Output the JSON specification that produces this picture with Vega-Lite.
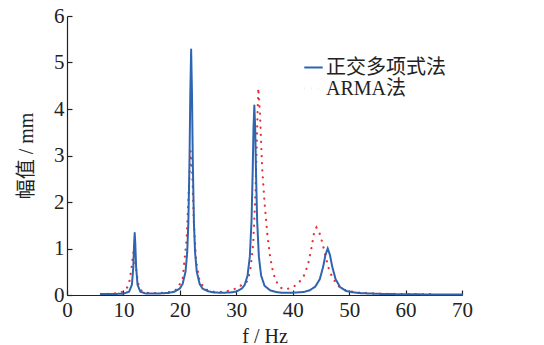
{
  "$schema": "https://vega.github.io/schema/vega-lite/v6.json",
  "width": 395,
  "height": 279,
  "autosize": "none",
  "padding": {"left": 67, "top": 16, "right": 82, "bottom": 50},
  "background": "white",
  "config": {
    "view": {"stroke": null},
    "font": "Liberation Serif"
  },
  "data": {
    "values": [
      {"f": 6, "y": 0.02, "s": "正交多项式法"},
      {"f": 8, "y": 0.02, "s": "正交多项式法"},
      {"f": 10, "y": 0.03, "s": "正交多项式法"},
      {"f": 11, "y": 0.07, "s": "正交多项式法"},
      {"f": 11.5, "y": 0.22, "s": "正交多项式法"},
      {"f": 11.75, "y": 0.6, "s": "正交多项式法"},
      {"f": 11.9, "y": 1.12, "s": "正交多项式法"},
      {"f": 12.0, "y": 1.34, "s": "正交多项式法"},
      {"f": 12.1, "y": 1.12, "s": "正交多项式法"},
      {"f": 12.25, "y": 0.6, "s": "正交多项式法"},
      {"f": 12.5, "y": 0.22, "s": "正交多项式法"},
      {"f": 13, "y": 0.07, "s": "正交多项式法"},
      {"f": 14, "y": 0.03, "s": "正交多项式法"},
      {"f": 16, "y": 0.03, "s": "正交多项式法"},
      {"f": 18, "y": 0.045, "s": "正交多项式法"},
      {"f": 19, "y": 0.07, "s": "正交多项式法"},
      {"f": 20, "y": 0.14, "s": "正交多项式法"},
      {"f": 20.5, "y": 0.24, "s": "正交多项式法"},
      {"f": 21, "y": 0.5, "s": "正交多项式法"},
      {"f": 21.3, "y": 0.91, "s": "正交多项式法"},
      {"f": 21.5, "y": 1.53, "s": "正交多项式法"},
      {"f": 21.7, "y": 2.81, "s": "正交多项式法"},
      {"f": 21.85, "y": 4.33, "s": "正交多项式法"},
      {"f": 22.0, "y": 5.28, "s": "正交多项式法"},
      {"f": 22.15, "y": 4.33, "s": "正交多项式法"},
      {"f": 22.3, "y": 2.81, "s": "正交多项式法"},
      {"f": 22.5, "y": 1.53, "s": "正交多项式法"},
      {"f": 22.7, "y": 0.91, "s": "正交多项式法"},
      {"f": 23, "y": 0.5, "s": "正交多项式法"},
      {"f": 23.5, "y": 0.24, "s": "正交多项式法"},
      {"f": 24, "y": 0.14, "s": "正交多项式法"},
      {"f": 25, "y": 0.08, "s": "正交多项式法"},
      {"f": 26, "y": 0.056, "s": "正交多项式法"},
      {"f": 27, "y": 0.05, "s": "正交多项式法"},
      {"f": 28, "y": 0.05, "s": "正交多项式法"},
      {"f": 29, "y": 0.055, "s": "正交多项式法"},
      {"f": 30, "y": 0.075, "s": "正交多项式法"},
      {"f": 31, "y": 0.14, "s": "正交多项式法"},
      {"f": 31.5, "y": 0.22, "s": "正交多项式法"},
      {"f": 32, "y": 0.42, "s": "正交多项式法"},
      {"f": 32.4, "y": 0.83, "s": "正交多项式法"},
      {"f": 32.7, "y": 1.59, "s": "正交多项式法"},
      {"f": 32.9, "y": 2.61, "s": "正交多项式法"},
      {"f": 33.05, "y": 3.58, "s": "正交多项式法"},
      {"f": 33.2, "y": 4.08, "s": "正交多项式法"},
      {"f": 33.35, "y": 3.58, "s": "正交多项式法"},
      {"f": 33.5, "y": 2.61, "s": "正交多项式法"},
      {"f": 33.7, "y": 1.59, "s": "正交多项式法"},
      {"f": 34.0, "y": 0.83, "s": "正交多项式法"},
      {"f": 34.4, "y": 0.42, "s": "正交多项式法"},
      {"f": 35, "y": 0.2, "s": "正交多项式法"},
      {"f": 36, "y": 0.1, "s": "正交多项式法"},
      {"f": 37, "y": 0.065, "s": "正交多项式法"},
      {"f": 38, "y": 0.05, "s": "正交多项式法"},
      {"f": 40, "y": 0.05, "s": "正交多项式法"},
      {"f": 42, "y": 0.065, "s": "正交多项式法"},
      {"f": 43, "y": 0.1, "s": "正交多项式法"},
      {"f": 44, "y": 0.18, "s": "正交多项式法"},
      {"f": 44.8, "y": 0.34, "s": "正交多项式法"},
      {"f": 45.4, "y": 0.61, "s": "正交多项式法"},
      {"f": 45.8, "y": 0.86, "s": "正交多项式法"},
      {"f": 46.2, "y": 1.0, "s": "正交多项式法"},
      {"f": 46.6, "y": 0.86, "s": "正交多项式法"},
      {"f": 47.0, "y": 0.61, "s": "正交多项式法"},
      {"f": 47.6, "y": 0.34, "s": "正交多项式法"},
      {"f": 48.4, "y": 0.17, "s": "正交多项式法"},
      {"f": 49.4, "y": 0.09, "s": "正交多项式法"},
      {"f": 50.5, "y": 0.06, "s": "正交多项式法"},
      {"f": 52, "y": 0.04, "s": "正交多项式法"},
      {"f": 55, "y": 0.025, "s": "正交多项式法"},
      {"f": 60, "y": 0.015, "s": "正交多项式法"},
      {"f": 65, "y": 0.012, "s": "正交多项式法"},
      {"f": 70, "y": 0.01, "s": "正交多项式法"},
      {"f": 6, "y": 0.02, "s": "ARMA法"},
      {"f": 8, "y": 0.03, "s": "ARMA法"},
      {"f": 9.5, "y": 0.05, "s": "ARMA法"},
      {"f": 10.5, "y": 0.12, "s": "ARMA法"},
      {"f": 11, "y": 0.25, "s": "ARMA法"},
      {"f": 11.4, "y": 0.55, "s": "ARMA法"},
      {"f": 11.8, "y": 0.95, "s": "ARMA法"},
      {"f": 12.2, "y": 0.6, "s": "ARMA法"},
      {"f": 12.6, "y": 0.25, "s": "ARMA法"},
      {"f": 13.2, "y": 0.09, "s": "ARMA法"},
      {"f": 14, "y": 0.05, "s": "ARMA法"},
      {"f": 16, "y": 0.04, "s": "ARMA法"},
      {"f": 18, "y": 0.06, "s": "ARMA法"},
      {"f": 19.5, "y": 0.12, "s": "ARMA法"},
      {"f": 20.5, "y": 0.35, "s": "ARMA法"},
      {"f": 21.2, "y": 1.2, "s": "ARMA法"},
      {"f": 21.6, "y": 2.3, "s": "ARMA法"},
      {"f": 21.9, "y": 3.1, "s": "ARMA法"},
      {"f": 22.2, "y": 2.6, "s": "ARMA法"},
      {"f": 22.5, "y": 1.5, "s": "ARMA法"},
      {"f": 22.9, "y": 0.7, "s": "ARMA法"},
      {"f": 23.5, "y": 0.3, "s": "ARMA法"},
      {"f": 24.5, "y": 0.12, "s": "ARMA法"},
      {"f": 26, "y": 0.07, "s": "ARMA法"},
      {"f": 28, "y": 0.07, "s": "ARMA法"},
      {"f": 30, "y": 0.14, "s": "ARMA法"},
      {"f": 31, "y": 0.22, "s": "ARMA法"},
      {"f": 32, "y": 0.3, "s": "ARMA法"},
      {"f": 32.5, "y": 0.55, "s": "ARMA法"},
      {"f": 33, "y": 1.1, "s": "ARMA法"},
      {"f": 33.4, "y": 2.2, "s": "ARMA法"},
      {"f": 33.7, "y": 3.6, "s": "ARMA法"},
      {"f": 33.9, "y": 4.45, "s": "ARMA法"},
      {"f": 34.2, "y": 3.9, "s": "ARMA法"},
      {"f": 34.6, "y": 2.7, "s": "ARMA法"},
      {"f": 35, "y": 2.0, "s": "ARMA法"},
      {"f": 35.5, "y": 1.3, "s": "ARMA法"},
      {"f": 36, "y": 0.82, "s": "ARMA法"},
      {"f": 36.5, "y": 0.5, "s": "ARMA法"},
      {"f": 37, "y": 0.3, "s": "ARMA法"},
      {"f": 38, "y": 0.15, "s": "ARMA法"},
      {"f": 38.8, "y": 0.12, "s": "ARMA法"},
      {"f": 40, "y": 0.17, "s": "ARMA法"},
      {"f": 41, "y": 0.25, "s": "ARMA法"},
      {"f": 42, "y": 0.42, "s": "ARMA法"},
      {"f": 42.7, "y": 0.65, "s": "ARMA法"},
      {"f": 43.3, "y": 1.0, "s": "ARMA法"},
      {"f": 43.8, "y": 1.35, "s": "ARMA法"},
      {"f": 44.2, "y": 1.45, "s": "ARMA法"},
      {"f": 44.7, "y": 1.35, "s": "ARMA法"},
      {"f": 45.2, "y": 1.15, "s": "ARMA法"},
      {"f": 45.7, "y": 0.9, "s": "ARMA法"},
      {"f": 46.3, "y": 0.6, "s": "ARMA法"},
      {"f": 47, "y": 0.38, "s": "ARMA法"},
      {"f": 48, "y": 0.2, "s": "ARMA法"},
      {"f": 49, "y": 0.12, "s": "ARMA法"},
      {"f": 50, "y": 0.08, "s": "ARMA法"},
      {"f": 52, "y": 0.05, "s": "ARMA法"},
      {"f": 55, "y": 0.03, "s": "ARMA法"},
      {"f": 60, "y": 0.02, "s": "ARMA法"},
      {"f": 65.5, "y": 0.02, "s": "ARMA法"}
    ]
  },
  "encoding": {
    "x": {
      "field": "f", "type": "quantitative",
      "scale": {"domain": [0, 70], "nice": false, "zero": false},
      "axis": {
        "values": [0, 10, 20, 30, 40, 50, 60, 70], "grid": false, "labelFlush": false,
        "tickSize": -5, "tickColor": "#222", "tickWidth": 1.2,
        "domainColor": "#222", "domainWidth": 1.2,
        "labelFont": "Liberation Serif", "labelFontSize": 21, "labelColor": "#222", "labelPadding": 9,
        "title": "f / Hz", "titleFont": "Liberation Serif", "titleFontSize": 20, "titleFontWeight": "normal", "titleColor": "#222", "titlePadding": 6
      }
    },
    "y": {
      "field": "y", "type": "quantitative",
      "scale": {"domain": [0, 6], "nice": false},
      "axis": {
        "values": [0, 1, 2, 3, 4, 5, 6], "grid": false, "labelFlush": false,
        "tickSize": -5, "tickColor": "#222", "tickWidth": 1.2,
        "domainColor": "#222", "domainWidth": 1.2,
        "labelFont": "Liberation Serif", "labelFontSize": 21, "labelColor": "#222", "labelPadding": 8,
        "title": "幅值 / mm", "titleFont": "Liberation Serif, Noto Sans CJK SC", "titleFontSize": 20, "titleFontWeight": "normal", "titleColor": "#222", "titlePadding": 17
      }
    },
    "color": {
      "field": "s", "type": "nominal",
      "scale": {"domain": ["正交多项式法", "ARMA法"], "range": ["#2f65b0", "#e8302e"]},
      "legend": {
        "title": null, "orient": "none", "legendX": 236, "legendY": 41,
        "symbolType": "stroke", "symbolSize": 340, "symbolStrokeWidth": 2,
        "labelFontSize": 20, "labelColor": "#222", "labelFont": "Liberation Serif, Noto Sans CJK SC",
        "rowPadding": 0, "labelOffset": 2
      }
    },
    "strokeDash": {
      "field": "s", "type": "nominal",
      "scale": {"domain": ["正交多项式法", "ARMA法"], "range": [[1, 0], [0.1, 7]]},
      "legend": null
    }
  },
  "layer": [
    {
      "transform": [{"filter": "datum.s === 'ARMA法'"}],
      "mark": {"type": "line", "strokeWidth": 2.2, "strokeCap": "round"}
    },
    {
      "transform": [{"filter": "datum.s === '正交多项式法'"}],
      "mark": {"type": "line", "strokeWidth": 2, "strokeCap": "round"}
    }
  ]
}
